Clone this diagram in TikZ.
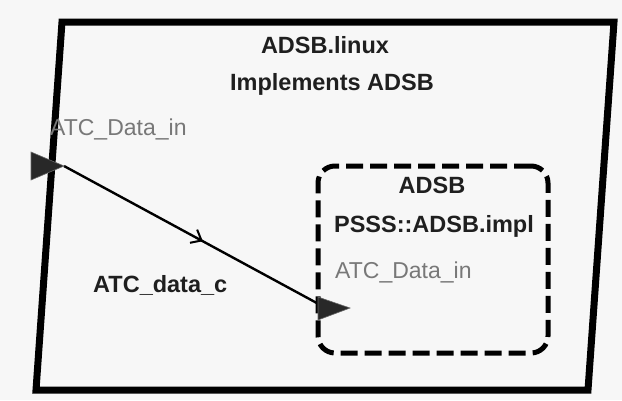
\documentclass[tikz,border=0pt]{standalone}
\usepackage{fontspec}
\setmainfont{Liberation Sans}
\usetikzlibrary{arrows.meta,decorations.markings}
\definecolor{paper}{RGB}{247,247,247}
\definecolor{portgray}{RGB}{120,120,120}
\definecolor{portfill}{RGB}{40,40,40}
\tikzset{
  boldlabel/.style={inner sep=0pt, font=\fontsize{23.5}{27}\selectfont\bfseries, text=black!88},
  portlabel/.style={inner sep=0pt, font=\fontsize{23}{26}\selectfont, text=portgray},
  framebox/.style={line width=7pt, line join=miter},
  subbox/.style={draw, line width=5pt, dash pattern=on 17pt off 7pt, rounded corners=17pt,
    minimum width=230pt, minimum height=187pt, inner sep=0pt},
  porttri/.style={fill=portfill, draw=black!60, line width=0.6pt},
  flow/.style={line width=2.4pt, postaction={decorate}, decoration={markings,
    mark=at position 0.53 with {\arrow{Straight Barb[length=9pt,width=15pt,line width=2pt]}}}}
}
\begin{document}
\begin{tikzpicture}[x=1pt,y=-1pt]
  \fill[paper] (0,0) rectangle (622,400);
  \useasboundingbox (0,0) rectangle (622,400);

  % enclosing system box (parallelogram)
  \draw[framebox] (62,22) -- (614,22) -- (588,390) -- (36,390) -- cycle;

  % subcomponent
  \node[subbox] (sub) at (433,259.5) {};

  % port tips and connection
  \coordinate (srcport) at (64,166);
  \coordinate (dstport) at (326,308);
  \draw[flow] (srcport) -- (dstport);

  % port markers
  \fill[porttri] (31,152) -- (64,166) -- (31,180) -- cycle;
  \fill[porttri] (318,297) -- (350,308) -- (318,320) -- cycle;

  % labels
  \node[boldlabel, anchor=base] (sysname) at (325,53) {ADSB.linux};
  \node[boldlabel, anchor=base] (sysimpl) at (332,90) {Implements ADSB};
  \node[portlabel, anchor=base west] (srclabel) at (50,135) {ATC\_Data\_in};
  \node[boldlabel, anchor=base west] (conn) at (93,292) {ATC\_data\_c};
  \node[boldlabel, anchor=base] (subname) at (432,193) {ADSB};
  \node[boldlabel, anchor=base] (subimpl) at (434,232) {PSSS::ADSB.impl};
  \node[portlabel, anchor=base west] (dstlabel) at (335,278) {ATC\_Data\_in};
\end{tikzpicture}
\end{document}
